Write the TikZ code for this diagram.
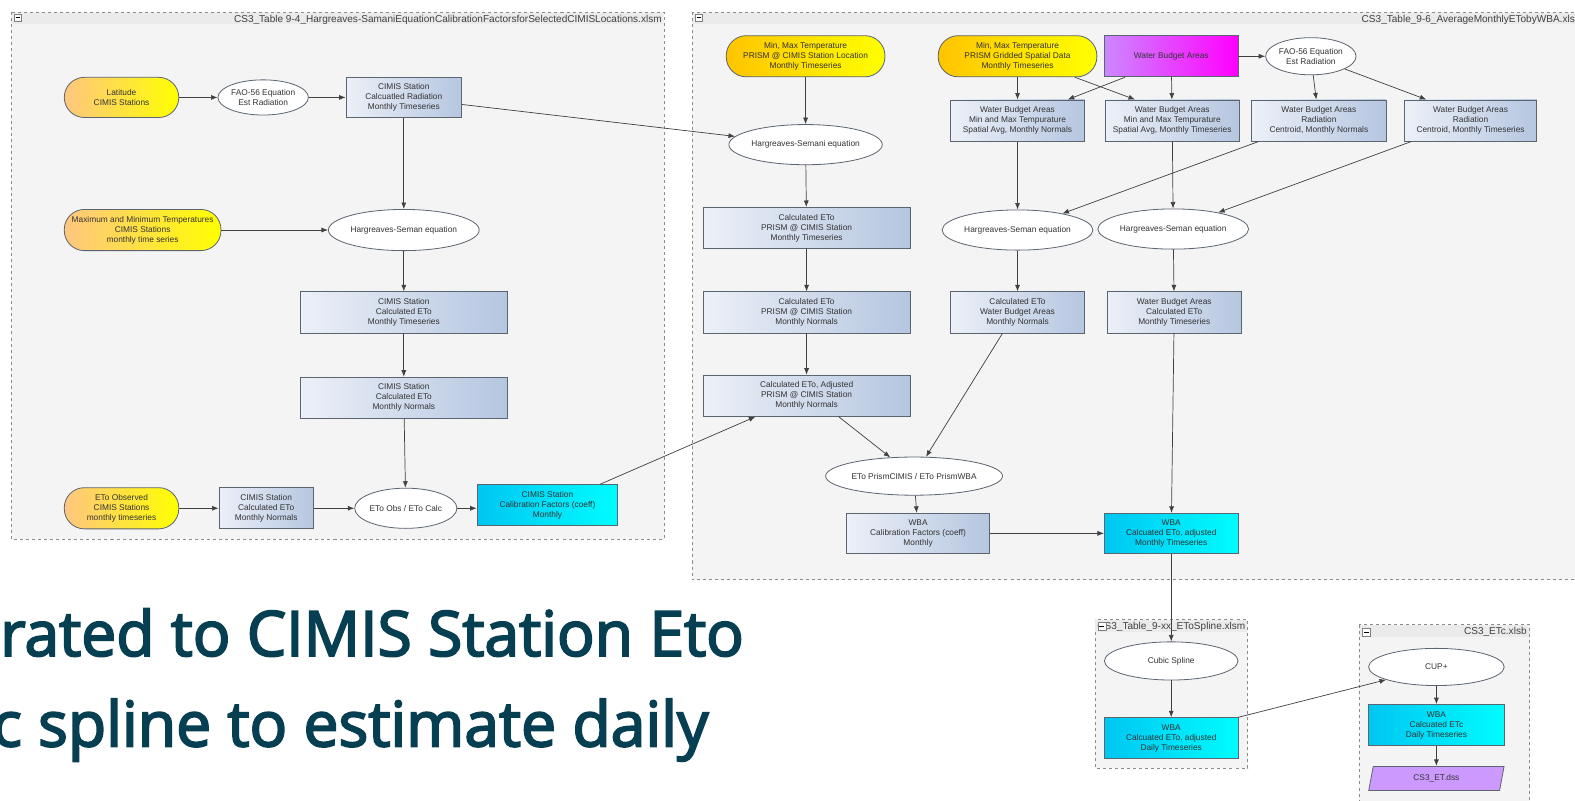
\documentclass[tikz,border=0pt]{standalone}
\usepackage{fontspec}
\setmainfont{Liberation Sans}
\newfontfamily\slidefont{Open Sans}[FakeBold=3]
\usetikzlibrary{shapes.geometric,arrows.meta}

\definecolor{panelgray}{HTML}{F4F4F4}
\definecolor{bargray}{HTML}{EBEBEB}
\definecolor{panelborder}{HTML}{8C8C8C}
\definecolor{boxleft}{HTML}{ECF0F8}
\definecolor{boxright}{HTML}{B5C6E0}
\definecolor{boxedge}{HTML}{5C6470}
\definecolor{cyanleft}{HTML}{00C6F2}
\definecolor{cyanright}{HTML}{00FCFF}
\definecolor{pillorange}{HTML}{FFC680}
\definecolor{pillgold}{HTML}{FFC400}
\definecolor{pillyellow}{HTML}{FFFF00}
\definecolor{magleft}{HTML}{CC88FF}
\definecolor{magright}{HTML}{FF00FF}
\definecolor{dsspurple}{HTML}{CC99FF}
\definecolor{lineedge}{HTML}{404040}
\definecolor{slideteal}{HTML}{063F52}

\tikzset{
  nodetext/.style={font=\fontsize{8.3}{10}\selectfont, text=black!80, align=center, inner sep=0pt},
  calcbox/.style={nodetext, rectangle, draw=boxedge, line width=0.8pt,
    left color=boxleft, right color=boxright, minimum height=41pt},
  outbox/.style={calcbox, left color=cyanleft, right color=cyanright},
  wbabox/.style={calcbox, left color=magleft, right color=magright},
  datapill/.style={nodetext, rectangle, rounded corners=20pt, draw=boxedge, line width=0.8pt,
    left color=pillorange, right color=pillyellow, minimum height=41pt},
  goldpill/.style={datapill, left color=pillgold},
  eqn/.style={nodetext, ellipse, draw=boxedge, line width=0.8pt, fill=white},
  dssfile/.style={nodetext, trapezium, trapezium left angle=78, trapezium right angle=102,
    trapezium stretches=true, draw=boxedge, line width=0.8pt, fill=dsspurple,
    minimum width=135pt, minimum height=24pt},
  conn/.style={draw=lineedge, line width=0.7pt, -{Latex[length=6.5pt,width=5pt]}},
  panel/.style={draw=panelborder, dashed, line width=0.7pt, fill=panelgray},
  paneltitle/.style={font=\fontsize{10}{10}\selectfont, text=black!75, anchor=base east, inner sep=0pt},
  slideline/.style={anchor=base west, inner sep=0pt, text=slideteal, font=\slidefont\fontsize{62.2}{62.2}\selectfont},
}

\begin{document}
\begin{tikzpicture}[x=1pt,y=-1pt]

  \useasboundingbox[fill=white] (0,0) rectangle (1568,797);
  \clip (0,0) rectangle (1568,797);

  % file panels
  \path[panel] (11,12) rectangle (661,537);
  \fill[bargray] (11.5,12.5) rectangle (660.5,24);
  \node[paneltitle] (title1) at (659,22) {CS3\_Table 9-4\_Hargreaves-SamaniEquationCalibrationFactorsforSelectedCIMISLocations.xlsm};
  \draw[gray, fill=white] (14,14) rectangle (21,21);
  \draw (15.5,17.5) -- (19.5,17.5);

  \path[panel] (689,12) rectangle (1580,577);
  \fill[bargray] (689.5,12.5) rectangle (1580,24);
  \node[paneltitle] (title2) at (1568,22) {CS3\_Table\_9-6\_AverageMonthlyETobyWBA.xls};
  \draw[gray, fill=white] (692,14) rectangle (699,21);
  \draw (693.5,17.5) -- (697.5,17.5);

  \path[panel] (1090,617) rectangle (1242,765);
  \fill[bargray] (1090.5,617.5) rectangle (1241.5,629);
  \node[paneltitle] (title3) at (1240,627) {CS3\_Table\_9-xx\_EToSpline.xlsm};
  \draw[gray, fill=white] (1093,619) rectangle (1101,627);
  \draw (1094.5,623) -- (1099.5,623);

  \path[panel] (1353,622) rectangle (1523,810);
  \fill[bargray] (1353.5,622.5) rectangle (1522.5,634);
  \node[paneltitle] (title4) at (1520,632) {CS3\_ETc.xlsb};
  \draw[gray, fill=white] (1356,625) rectangle (1364,633);
  \draw (1357.5,629) -- (1362.5,629);

  % CIMIS station calibration
  \node[datapill, minimum width=114pt, minimum height=40pt] (lat) at (121,97) {Latitude\\CIMIS Stations};
  \node[eqn, minimum width=80pt, minimum height=35pt] (fao1) at (262,97) {FAO-56 Equation\\Est Radiation};
  \node[calcbox, minimum width=115pt, minimum height=40pt] (rad) at (402,97) {CIMIS Station\\Calcuatled Radiation\\Monthly Timeseries};
  \node[datapill, minimum width=156pt] (maxmin) at (142,229) {Maximum and Minimum Temperatures\\CIMIS Stations\\monthly time series};
  \node[eqn, minimum width=139pt, minimum height=41pt] (hs) at (402,229) {Hargreaves-Seman equation};
  \node[calcbox, minimum width=206pt] (cts) at (402,311) {CIMIS Station\\Calculated ETo\\Monthly Timeseries};
  \node[calcbox, minimum width=206pt] (cnorm) at (402,396) {CIMIS Station\\Calculated ETo\\Monthly Normals};
  \node[datapill, minimum width=114pt] (obs) at (121,506) {ETo Observed\\CIMIS Stations\\monthly timeseries};
  \node[calcbox, minimum width=94pt] (onorm) at (265,506) {CIMIS Station\\Calculated ETo\\Monthly Normals};
  \node[eqn, minimum width=93pt, minimum height=40pt] (ratio1) at (404,506) {ETo Obs / ETo Calc};
  \node[outbox, minimum width=140pt] (coef1) at (545,503) {CIMIS Station\\Calibration Factors (coeff)\\Monthly};

  % WBA average monthly ETo
  \node[goldpill, minimum width=158pt] (tloc) at (802,56) {Min, Max Temperature\\PRISM @ CIMIS Station Location\\Monthly Timeseries};
  \node[eqn, minimum width=139pt, minimum height=40pt] (hsemani) at (802,144) {Hargreaves-Semani equation};
  \node[calcbox, minimum width=206pt] (pts) at (803,227) {Calculated ETo\\PRISM @ CIMIS Station\\Monthly Timeseries};
  \node[calcbox, minimum width=206pt] (pnorm) at (803,311) {Calculated ETo\\PRISM @ CIMIS Station\\Monthly Normals};
  \node[calcbox, minimum width=206pt] (padj) at (803,394) {Calculated ETo, Adjusted\\PRISM @ CIMIS Station\\Monthly Normals};
  \node[eqn, minimum width=135pt, minimum height=38pt] (ratio2) at (910,474) {ETo PrismCIMIS / ETo PrismWBA};
  \node[calcbox, minimum width=142pt, minimum height=40pt] (coef2) at (914,531) {WBA\\Calibration Factors (coeff)\\Monthly};
  \node[outbox, minimum width=133pt, minimum height=40pt] (wbaadj) at (1166,531) {WBA\\Calcuated ETo, adjusted\\Monthly Timeseries};
  \node[goldpill, minimum width=158pt] (tgrid) at (1013,56) {Min, Max Temperature\\PRISM Gridded Spatial Data\\Monthly Timeseries};
  \node[wbabox, minimum width=133pt] (wba) at (1166,56) {Water Budget Areas};
  \node[eqn, minimum width=83pt, minimum height=37pt] (fao2) at (1305,56) {FAO-56 Equation\\Est Radiation};
  \node[calcbox, minimum width=134pt] (tnorm) at (1013,120) {Water Budget Areas\\Min and Max Tempurature\\Spatial Avg, Monthly Normals};
  \node[calcbox, minimum width=134pt] (tts) at (1167,120) {Water Budget Areas\\Min and Max Tempurature\\Spatial Avg, Monthly Timeseries};
  \node[calcbox, minimum width=134pt] (rnorm) at (1313,120) {Water Budget Areas\\Radiation\\Centroid, Monthly Normals};
  \node[calcbox, minimum width=132pt] (rts) at (1464,120) {Water Budget Areas\\Radiation\\Centroid, Monthly Timeseries};
  \node[eqn, minimum width=141pt, minimum height=40pt] (hs1) at (1013,229) {Hargreaves-Seman equation};
  \node[eqn, minimum width=139pt, minimum height=40pt] (hs2) at (1168,228) {Hargreaves-Seman equation};
  \node[calcbox, minimum width=134pt] (enorm) at (1013,311) {Calculated ETo\\Water Budget Areas\\Monthly Normals};
  \node[calcbox, minimum width=134pt] (ets) at (1169,311) {Water Budget Areas\\Calculated ETo\\Monthly Timeseries};

  % spline and ETc
  \node[eqn, minimum width=133pt, minimum height=38pt] (spline) at (1166,658) {Cubic Spline};
  \node[outbox, minimum width=133pt] (daily) at (1166,735) {WBA\\Calcuated ETo, adjusted\\Daily Timeseries};
  \node[eqn, minimum width=135pt, minimum height=37pt] (cup) at (1430,664) {CUP+};
  \node[outbox, minimum width=135pt] (etc) at (1430,722) {WBA\\Calcuated ETc\\Daily Timeseries};
  \node[dssfile] (dss) at (1430,775) {CS3\_ET.dss};

  \begin{scope}[every edge/.style={conn}]
    \path (lat) edge (fao1);
    \path (fao1) edge (rad);
    \path (rad) edge (hs);
    \path (maxmin) edge (hs);
    \path (hs) edge (cts);
    \path (cts) edge (cnorm);
    \path (cnorm) edge (ratio1);
    \path (obs) edge (onorm);
    \path (onorm) edge (ratio1);
    \path (ratio1) edge (ratio1 -| coef1.west);
    \path ([yshift=-7pt]rad.east) edge (hsemani);
    \path ([xshift=-18pt]coef1.north east) edge ([xshift=-51pt]padj.south);
    \path (tloc) edge (hsemani);
    \path (hsemani) edge (pts);
    \path (pts) edge (pnorm);
    \path (pnorm) edge (padj);
    \path ([xshift=32pt]padj.south) edge (ratio2);
    \path ([xshift=-15pt]enorm.south) edge (ratio2);
    \path (ratio2) edge (coef2);
    \path (coef2) edge (wbaadj);
    \path (tgrid) edge (tnorm);
    \path ([xshift=57pt]tgrid.south) edge ([xshift=-37pt]tts.north);
    \path ([xshift=-46pt]wba.south) edge ([xshift=50pt]tnorm.north);
    \path (wba) edge (tts);
    \path (wba) edge (fao2);
    \path (fao2) edge (rnorm);
    \path (fao2) edge ([xshift=-44pt]rts.north);
    \path (tnorm) edge (hs1);
    \path (tts) edge (hs2);
    \path ([xshift=-60pt]rnorm.south) edge (hs1);
    \path ([xshift=-59pt]rts.south) edge (hs2);
    \path (hs1) edge (enorm);
    \path (hs2) edge (ets);
    \path (ets) edge (wbaadj);
    \path (wbaadj) edge (spline);
    \path (spline) edge (daily);
    \path (daily.north east) edge (cup);
    \path (cup) edge (etc);
    \path (etc) edge (dss);
  \end{scope}

  % slide text behind the diagram
  \node[slideline] (line1) at (0,653) {rated to CIMIS Station Eto};
  \node[slideline] (line2) at (-8,743) {c spline to estimate daily};

\end{tikzpicture}
\end{document}
